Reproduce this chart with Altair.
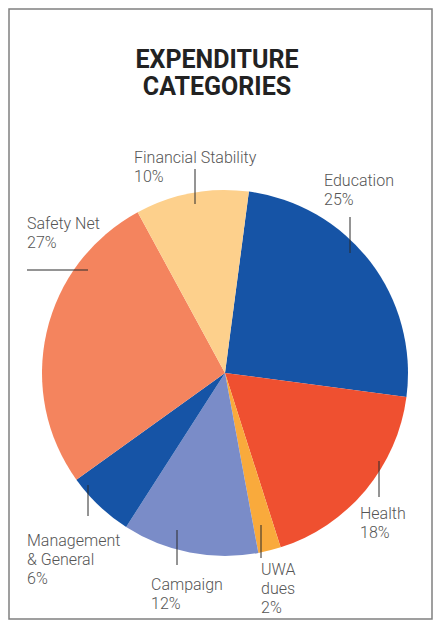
import math
import altair as alt
import pandas as pd

# ---- data ----
categories = ["Education", "Health", "UWA dues", "Campaign",
              "Management & General", "Safety Net", "Financial Stability"]
label_names = ["Education", "Health", "UWA\ndues", "Campaign",
               "Management\n& General", "Safety Net", "Financial Stability"]
percent = [25, 18, 2, 12, 6, 27, 10]
colors = ["#1654A6", "#EF5030", "#F9AA3C", "#7A8CC8",
          "#1654A6", "#F4845E", "#FDD08C"]
title_lines = ["EXPENDITURE", "CATEGORIES"]

# ---- annotation layout (offsets from pie centre, px) ----
label_dx = [99, 135, 36, -74, -198, -198, -91]
label_dy = [-187, 146, 202, 217, 173, -144, -210]
lead_x1 = [125, 154, 36, -48, -137, -198, -30]
lead_y1 = [-156, 88, 152, 157, 112, -103, -204]
lead_x2 = [125, 154, 36, -48, -137, -137, -30]
lead_y2 = [-120, 124, 185, 192, 143, -103, -169]

start = math.radians(7.5)

df = pd.DataFrame({
    "idx": list(range(len(categories))),
    "category": categories,
    "value": percent,
    "text": [f"{n}\n{p}%" for n, p in zip(label_names, percent)],
    "lx": label_dx, "ly": label_dy,
    "x1": lead_x1, "y1": lead_y1, "x2": lead_x2, "y2": lead_y2,
})

W, H = 423, 610
CX, CY = 216, 364
xs = alt.Scale(domain=[-CX, W - CX], nice=False, zero=False)
ys = alt.Scale(domain=[-CY, H - CY], nice=False, zero=False, reverse=True)

base = alt.Chart(df)

arc = base.mark_arc(outerRadius=183).encode(
    theta=alt.Theta("value:Q", stack=True,
                    scale=alt.Scale(range=[start, start + 2 * math.pi])),
    color=alt.Color("category:N", scale=alt.Scale(domain=categories, range=colors),
                    legend=None),
    order=alt.Order("idx:Q"),
    x=alt.value(CX),
    y=alt.value(CY),
)

rules = base.mark_rule(color="#2b2b2b", strokeWidth=1).encode(
    x=alt.X("x1:Q", scale=xs, axis=None),
    y=alt.Y("y1:Q", scale=ys, axis=None),
    x2="x2:Q",
    y2="y2:Q",
)

labels = base.mark_text(
    align="left", baseline="alphabetic", font="Roboto", fontSize=16,
    fontWeight=300, color="#555555", lineBreak="\n", lineHeight=19,
).encode(
    x=alt.X("lx:Q", scale=xs, axis=None),
    y=alt.Y("ly:Q", scale=ys, axis=None),
    text="text:N",
)

title = alt.Chart(pd.DataFrame({"t": [0]})).mark_text(
    text=title_lines, align="center", baseline="alphabetic", font="Roboto",
    fontSize=25, fontWeight="bold", color="#222222", lineHeight=27,
).encode(x=alt.value(208), y=alt.value(59))

chart = alt.layer(arc, rules, labels, title).properties(
    width=W, height=H, padding=1, autosize=alt.AutoSizeParams(type="none"),
).configure_view(stroke="#808080", strokeWidth=1.5)

chart.save("out.html", embed_options={"renderer": "svg", "actions": False})
